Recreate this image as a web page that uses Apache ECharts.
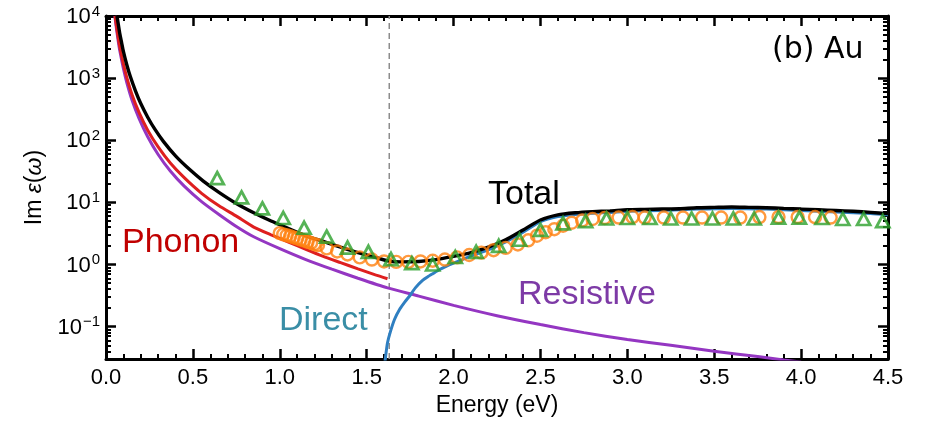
<!DOCTYPE html>
<html><head><meta charset="utf-8">
<script src="https://cdn.jsdelivr.net/npm/echarts@6/dist/echarts.min.js"></script>
<style>html,body{margin:0;padding:0;background:#fff}#c{width:925px;height:422px}</style>
</head><body><div id="c"></div>
<script>
// ---- data (energy in eV, Im eps) ----
const totalData = [[0.063,10000],[0.07,7600],[0.08,5100],[0.09,3700],[0.10,2700],[0.12,1630],[0.14,1060],[0.17,620],[0.20,390],[0.24,235],[0.28,152],[0.33,96],[0.40,56],[0.48,34],[0.56,22],[0.65,14.5],[0.75,9.6],[0.85,6.8],[0.95,5.0],[1.05,3.8],[1.15,2.9],[1.25,2.35],[1.35,1.9],[1.45,1.55],[1.55,1.3],[1.62,1.15],[1.70,1.1],[1.80,1.12],[1.90,1.2],[2.00,1.35],[2.10,1.55],[2.20,1.9],[2.30,2.5],[2.40,3.6],[2.50,5.2],[2.60,6.3],[2.70,6.8],[2.80,7.1],[2.90,7.3],[3.00,7.6],[3.10,7.7],[3.20,7.8],[3.30,7.9],[3.40,8.2],[3.50,8.3],[3.60,8.4],[3.70,8.3],[3.80,8.2],[3.90,8.0],[4.00,7.8],[4.10,7.6],[4.20,7.4],[4.30,7.2],[4.40,6.9],[4.50,6.6]];
const phononData = [[0.052,10000],[0.06,6900],[0.07,4500],[0.08,3100],[0.10,1700],[0.12,1020],[0.15,540],[0.19,280],[0.24,145],[0.30,78],[0.37,43],[0.45,25],[0.55,14],[0.65,8.8],[0.75,6.0],[0.85,4.0],[0.95,3.0],[1.05,2.3],[1.15,1.75],[1.25,1.35],[1.35,1.07],[1.45,0.85],[1.55,0.68],[1.62,0.59]];
const resistiveData = [[0.051,10000],[0.06,6300],[0.07,4000],[0.08,2700],[0.10,1430],[0.12,840],[0.15,440],[0.19,225],[0.24,114],[0.30,59],[0.37,32],[0.45,18.3],[0.55,10.3],[0.65,6.4],[0.75,4.1],[0.85,2.8],[1.0,1.8],[1.15,1.2],[1.3,0.84],[1.45,0.6],[1.62,0.42],[1.8,0.31],[2.0,0.22],[2.25,0.15],[2.5,0.108],[2.75,0.08],[3.0,0.062],[3.25,0.05],[3.5,0.04],[3.75,0.033],[3.9,0.029],[4.0,0.027]];
const directData = [[1.600,0.02],[1.61,0.035],[1.62,0.055],[1.635,0.08],[1.66,0.13],[1.69,0.19],[1.72,0.25],[1.75,0.32],[1.78,0.42],[1.82,0.55],[1.85,0.63],[1.88,0.71],[1.92,0.83],[1.96,0.94],[2.0,1.05],[2.05,1.2],[2.1,1.38],[2.2,1.72],[2.3,2.3],[2.4,3.3],[2.5,4.9],[2.6,5.9],[2.7,6.4],[2.8,6.7],[2.9,6.9],[3.0,7.2],[3.2,7.4],[3.4,7.8],[3.6,8.0],[3.8,7.8],[4.0,7.4],[4.2,7.0],[4.4,6.6],[4.5,6.3]];
const expCircles = [[1.00,3.2],[1.02,3.05],[1.04,2.95],[1.06,2.85],[1.08,2.72],[1.10,2.62],[1.12,2.52],[1.14,2.42],[1.16,2.32],[1.18,2.22],[1.20,2.12],[1.22,2.05],[1.27,1.82],[1.33,1.62],[1.39,1.45],[1.46,1.3],[1.53,1.2],[1.60,1.12],[1.67,1.1],[1.74,1.1],[1.81,1.12],[1.88,1.15],[1.95,1.2],[2.02,1.3],[2.09,1.42],[2.16,1.55],[2.23,1.7],[2.30,1.85],[2.37,2.1],[2.43,2.45],[2.48,2.9],[2.53,3.3],[2.58,3.7],[2.63,4.2],[2.68,4.7],[2.74,5.1],[2.80,5.4],[2.87,5.6],[2.95,5.7],[3.03,5.8],[3.10,5.7],[3.21,5.7],[3.32,5.7],[3.43,5.7],[3.54,5.7],[3.65,5.7],[3.76,5.8],[3.87,5.8],[3.98,5.8],[4.08,5.8],[4.17,5.7]];
const expTriangles = [[0.64,24.5],[0.78,12],[0.90,8],[1.02,5.6],[1.14,3.9],[1.27,2.8],[1.39,1.87],[1.51,1.6],[1.64,1.22],[1.76,1.05],[1.88,1.0],[2.01,1.32],[2.13,1.6],[2.26,2.0],[2.38,2.5],[2.50,3.6],[2.63,4.6],[2.76,5.0],[2.88,5.5],[3.00,5.6],[3.13,5.6],[3.25,5.5],[3.37,5.5],[3.49,5.5],[3.61,5.5],[3.73,5.5],[3.87,5.7],[3.99,5.7],[4.12,5.6],[4.24,5.4],[4.36,5.4],[4.47,5.0]];
const dividerE = 1.63;
const xMin = 0, xMax = 4.5, xStep = 0.5;
const yMin = 0.03, yMax = 10000;
const yMajorTicks = [0.1, 1, 10, 100, 1000, 10000];
const yExpLabels = ['\u22121', '0', '1', '2', '3', '4'];

const FONT = '"Liberation Sans", Arial, Helvetica, sans-serif';
const lg = v => Math.log10(v);
const majorLog = yMajorTicks.map(lg);
const minorLog = [];
for (let e = -2; e < 4; e++) for (let k = 2; k < 10; k++) {
  const v = k * Math.pow(10, e);
  if (v >= yMin && v <= yMax) minorLog.push(lg(v));
}
const chart = echarts.init(document.getElementById('c'));
const axLine = {show: true, onZero: false, lineStyle: {color: '#000', width: 3}};
const xAxisBase = {
  type: 'value', min: xMin, max: xMax, interval: xStep, gridIndex: 0,
  axisLine: axLine,
  axisTick: {show: true, inside: true, length: 10, lineStyle: {color: '#000', width: 2.5}},
  minorTick: {show: true, splitNumber: 5, length: 5, lineStyle: {color: '#000', width: 2}},
  splitLine: {show: false}, minorSplitLine: {show: false}
};
function yTickAxis(pos, major, labels) {
  const vals = major ? majorLog : minorLog;
  return {
    type: 'value', position: pos, min: lg(yMin), max: lg(yMax),
    axisLine: major ? axLine : {show: false, onZero: false},
    axisTick: {show: true, inside: true, length: major ? 10 : 5, customValues: vals,
      lineStyle: {color: '#000', width: major ? 2.5 : 2}},
    axisLabel: labels ? {
      show: true, customValues: majorLog, margin: 6,
      formatter: v => '{b|10}{s|' + yExpLabels[majorLog.findIndex(m => Math.abs(m - v) < 1e-6)] + '}',
      rich: {b: {fontFamily: FONT, fontSize: 22, color: '#000', lineHeight: 24, verticalAlign: 'bottom'},
             s: {fontFamily: FONT, fontSize: 15, color: '#000', lineHeight: 24, verticalAlign: 'top', padding: [0, 0, 0, 1]}}
    } : {show: false},
    splitLine: {show: false},
    name: labels ? '{n|Im }{i|\u03b5}{n|(}{i|\u03c9}{n|)}' : '',
    nameLocation: 'middle', nameGap: 56, nameRotate: 90,
    nameTextStyle: {rich: {n: {fontFamily: FONT, fontSize: 23, color: '#000'}, i: {fontFamily: FONT, fontSize: 23, fontStyle: 'italic', color: '#000'}}}
  };
}
const lineS = (name, data, color, w, z) => ({
  name, type: 'line', data, xAxisIndex: 0, yAxisIndex: 0, showSymbol: false, symbol: 'none',
  smooth: 0.2, lineStyle: {color, width: w}, z, silent: true, clip: true
});
const option = {
  animation: false,
  grid: {left: 106, right: 37, top: 16, bottom: 55, containLabel: false},
  xAxis: [
    Object.assign({}, xAxisBase, {position: 'bottom',
      axisLabel: {show: true, margin: 8, fontFamily: FONT, fontSize: 22, color: '#000', formatter: v => v.toFixed(1)},
      name: 'Energy (eV)', nameLocation: 'middle', nameGap: 33,
      nameTextStyle: {fontFamily: FONT, fontSize: 23, color: '#000'}}),
    Object.assign({}, xAxisBase, {position: 'top', axisLabel: {show: false}})
  ],
  yAxis: [
    {type: 'log', logBase: 10, min: yMin, max: yMax, show: false},
    yTickAxis('left', true, true),
    yTickAxis('left', false, false),
    yTickAxis('right', true, false),
    yTickAxis('right', false, false)
  ],
  series: [
    {type: 'line', data: [[dividerE, yMin], [dividerE, yMax]], showSymbol: false, symbol: 'none',
     lineStyle: {color: '#8c8c8c', width: 1.5, type: [6, 4]}, z: 1, silent: true},
    lineS('Resistive', resistiveData, '#9436c2', 3, 2),
    lineS('Phonon', phononData, '#de1f1f', 3, 3),
    lineS('Direct', directData, '#2f7fc1', 3, 2),
    lineS('Total', totalData, '#000000', 3.4, 4),
    {name: 'exp1', type: 'scatter', data: expCircles, symbol: 'circle', symbolSize: 12,
     itemStyle: {color: 'rgba(255,255,255,0)', borderColor: '#ff7f0e', borderWidth: 2.4}, z: 5, silent: true},
    {name: 'exp2', type: 'scatter', data: expTriangles, symbol: 'triangle', symbolSize: [13, 12],
     itemStyle: {color: 'rgba(255,255,255,0)', borderColor: '#2ca02c', borderWidth: 2.8}, z: 6, silent: true}
  ],
  graphic: [
    {type: 'text', left: 122, top: 226, style: {text: 'Phonon', font: '34px ' + FONT, fill: '#c00000'}},
    {type: 'text', left: 488, top: 178, style: {text: 'Total', font: '34px ' + FONT, fill: '#000'}},
    {type: 'text', left: 279, top: 304, style: {text: 'Direct', font: '34px ' + FONT, fill: '#3a8ea6'}},
    {type: 'text', left: 518, top: 278, style: {text: 'Resistive', font: '34px ' + FONT, fill: '#7d3aa6'}},
    {type: 'text', left: 772, top: 35, style: {text: '(b) Au', font: '30px "DejaVu Sans", sans-serif', fill: '#000'}}
  ]
};
chart.setOption(option);
</script></body></html>
